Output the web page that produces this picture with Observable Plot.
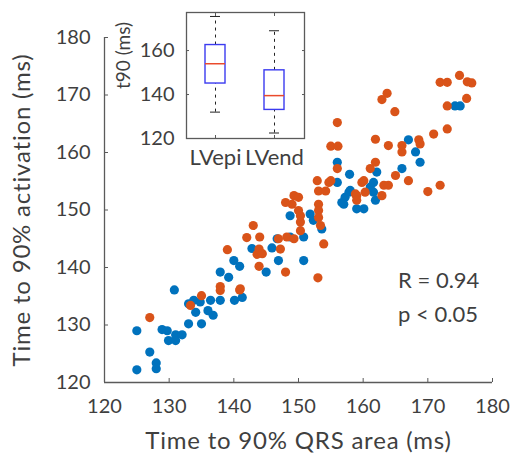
<!DOCTYPE html>
<html><head><meta charset="utf-8">
<script src="https://cdn.jsdelivr.net/npm/d3@7"></script>
<script src="https://cdn.jsdelivr.net/npm/@observablehq/plot@0.6"></script>
<style>
body{margin:0;background:#fff;}
#wrap{position:relative;width:515px;height:453px;overflow:hidden;}
#main{position:absolute;left:0;top:0;}
#inset{position:absolute;left:100px;top:0;}
svg{overflow:visible;}
#main g[aria-label="x-axis label"] text, #main g[aria-label="y-axis label"] text{font-size:24px;letter-spacing:0.8px;}
</style></head><body><div id="wrap"><div id="main"></div><div id="inset"></div></div>
<script>
// blue series
const blueX = [125,128,128,127,125,128.9,129.7,131,129.9,131,132,130.8,133,135,133,134.1,134.8,136.4,136,136.8,137.9,137.9,139.2,140,140.9,140.1,141.3,142.8,145,145.9,146.9,146.7,148.7,150.8,150.8,148.7,151.8,152.3,153.6,156,157.9,158,156.7,157.2,157,159,160.1,161.9,161.6,161.1,161.6,162.1,166,167,168.1,168.8,174.2,175,156,157.8,133.8];
const blueY = [122.2,122.4,123.4,125.3,129.0,129.2,129.0,128.3,127.3,127.3,128.3,136.1,130.2,130.2,133.7,132.2,134,134.3,132.5,131.7,134.3,139.2,138.3,141.2,140.2,134.3,134.8,143.3,139.2,143.4,141.2,145,145.3,145.3,141.2,149,149.3,148.2,146.7,158.3,156.2,153.4,151.3,152.2,151,150.2,150.2,151.7,153.1,154,154.8,156.6,157.2,162.2,160.1,158.3,168.1,168.1,154.8,153.1,134.3];
// orange series
const orangeX = [127,135,133.3,137.9,137.9,139,140.9,143,142,144,143.6,143.9,143.9,144.4,146.9,147.2,148,148.2,149.3,150.3,150.3,150.3,150,149,148,149.3,150,153.1,153.1,153.1,153.4,153.9,152.9,155,153.1,154.2,156,155,156.1,156,153,158.8,159.8,159,160.3,162.9,160.1,163.2,163.9,161.1,161.9,165,167,166,161.9,163.9,166,168.6,168.8,163.7,162.9,164.9,170,171.9,170.9,173,171.9,173,174.9,176.1,176.8,176,173,159,154.7,141];
const orangeY = [131.3,135.1,133.4,136.7,136,143.1,136.1,147.3,145.2,145.3,142.3,140.2,143.2,142.4,145,143.2,139.2,145.3,145,146.4,147.9,149,149.9,151,151.3,152.5,152.2,151,149.9,148.7,147.3,144.1,155.1,155.1,153.3,153.3,157.2,161.1,161.1,165.2,138.2,152.8,154.8,152.5,153.1,152.5,155.1,154.3,154.3,157.2,158.3,156,155.1,160.1,162.3,161.2,161.2,162.2,161.5,170.3,169.2,167.1,153.2,154.3,163.2,164.1,172.2,172.2,173.4,172.3,172.1,169.4,168.1,151.7,154.8,136.3];
const xTicks = [120,130,140,150,160,170,180];
const yTicks = [120,130,140,150,160,170,180];
const statLines = ["R = 0.94", "p < 0.05"];
// inset box plot
const boxCats = ["LVepi","LVend"];
const boxLow  = [132, 122.5];
const boxQ1   = [145, 133];
const boxMed  = [154, 139.5];
const boxQ3   = [162.5, 151];
const boxHigh = [175.5, 169];
const insetTicks = [120,140,160];

const font = "Lato, 'Open Sans', sans-serif";
const ink = "#3f3f3f";
const axisCol = "#5a5a5a";

const blue = blueX.map((x,i)=>({x, y: blueY[i]}));
const orange = orangeX.map((x,i)=>({x, y: orangeY[i]}));

const main = Plot.plot({
  width: 515, height: 453,
  marginLeft: 104, marginRight: 23, marginTop: 37, marginBottom: 71,
  style: {fontFamily: font, fontSize: "20px", color: ink, background: "transparent", overflow: "visible"},
  x: {domain: [120,180]},
  y: {domain: [120,180]},
  marks: [
    Plot.dot(blue, {x: "x", y: "y", r: 4.6, fill: "#0072BD"}),
    Plot.dot(orange, {x: "x", y: "y", r: 4.6, fill: "#D95319"}),
    Plot.ruleY([120], {stroke: axisCol, strokeWidth: 1.3}),
    Plot.ruleX([120], {stroke: axisCol, strokeWidth: 1.3}),
    Plot.axisX({ticks: xTicks, tickSize: -4, tickPadding: 20, stroke: axisCol, label: "Time to 90% QRS area (ms)", labelAnchor: "center", labelOffset: 66, labelArrow: "none"}),
    Plot.axisY({ticks: yTicks, tickSize: -4, tickPadding: 18, stroke: axisCol, label: "Time to 90% activation (ms)", labelAnchor: "center", labelOffset: 92, labelArrow: "none"}),
    Plot.text([statLines.join("\n")], {x: 165.4, y: 135.3, textAnchor: "start", lineHeight: 1.55, fill: ink, fontSize: 22})
  ]
});
document.getElementById("main").appendChild(main);

const boxes = boxCats.map((c,i)=>({c, lo: boxLow[i], q1: boxQ1[i], med: boxMed[i], q3: boxQ3[i], hi: boxHigh[i]}));
const inset = Plot.plot({
  width: 220, height: 175,
  marginLeft: 86, marginRight: 16, marginTop: 12, marginBottom: 37,
  style: {fontFamily: font, fontSize: "20px", color: ink, background: "transparent", overflow: "visible"},
  x: {type: "band", domain: boxCats, paddingInner: 0.66, paddingOuter: 0.32},
  y: {domain: [120, 177.3]},
  marks: [
    Plot.frame({fill: "white", stroke: axisCol, strokeWidth: 1.3}),
    Plot.ruleX(boxes, {x: "c", y1: "q3", y2: "hi", stroke: "#222", strokeDasharray: "3,4"}),
    Plot.ruleX(boxes, {x: "c", y1: "lo", y2: "q1", stroke: "#222", strokeDasharray: "3,4"}),
    Plot.tickY(boxes, {x: "c", y: "hi", stroke: "#222", insetLeft: 5, insetRight: 5}),
    Plot.tickY(boxes, {x: "c", y: "lo", stroke: "#222", insetLeft: 5, insetRight: 5}),
    Plot.barY(boxes, {x: "c", y1: "q1", y2: "q3", fill: "none", stroke: "#3b3bf0", strokeWidth: 1.4}),
    Plot.tickY(boxes, {x: "c", y: "med", stroke: "#ea4a2c", strokeWidth: 1.5}),
    Plot.axisY({ticks: insetTicks, tickSize: -3, tickPadding: 15, stroke: axisCol, label: null}),
    Plot.axisY({anchor: "right", ticks: insetTicks, tickSize: -3, tickFormat: () => "", stroke: axisCol, label: null}),
    Plot.axisX({tickSize: -3, tickPadding: 14, stroke: axisCol, label: null, fontSize: 22}),
    Plot.axisX({anchor: "top", tickSize: -3, tickFormat: () => "", stroke: axisCol, label: null}),
    Plot.text(["t90 (ms)"], {frameAnchor: "left", rotate: -90, dx: -62.5, dy: -20, textAnchor: "middle", lineAnchor: "middle", fill: ink, fontSize: 19})
  ]
});
document.getElementById("inset").appendChild(inset);
</script>
</body></html>
